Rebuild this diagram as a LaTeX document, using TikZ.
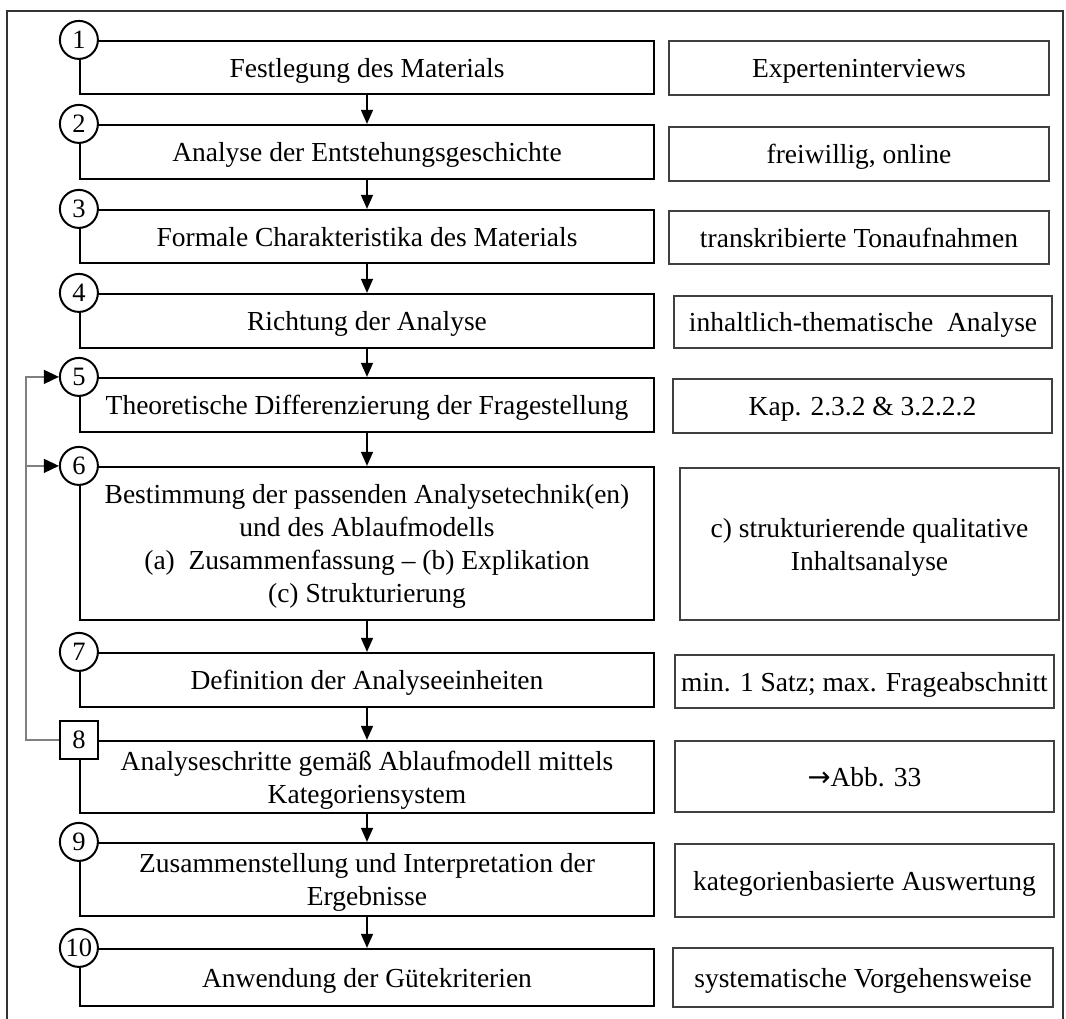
\documentclass[tikz,border=0pt]{standalone}
\usepackage{fontspec}
\setmainfont{Liberation Serif}
\newfontfamily\arrowfont{DejaVu Sans}
\usetikzlibrary{arrows.meta}
\newcommand\boxfont{\fontsize{27.5}{33}\selectfont}
\newcommand\numfont{\fontsize{26.5}{28}\selectfont}
\begin{document}
\begin{tikzpicture}[x=1pt,y=-1pt,
  stepbox/.style={draw=black,line width=2.2pt,minimum width=574pt,inner sep=2pt,
    text depth=0pt,align=center,font=\boxfont},
  notebox/.style={draw=black!75,line width=1.3pt,inner sep=2pt,text depth=0pt,
    align=center,font=\boxfont},
  numcirc/.style={circle,draw=black,line width=2pt,fill=white,minimum size=38pt,
    inner sep=0pt,font=\numfont},
  numsquare/.style={rectangle,draw=black,line width=2pt,fill=white,minimum size=38pt,
    inner sep=0pt,font=\numfont},
  flow/.style={line width=1.5pt,-{Triangle[width=12pt,length=14pt]}},
  loopback/.style={draw=black!50,line width=1.3pt,
    -{Triangle[width=14pt,length=15pt,color=black]}},
  frame/.style={draw=black!80,line width=1.8pt}]

\useasboundingbox (0,0) rectangle (1066,1018);
\clip (0,0) rectangle (1066,1018);

% outer frame
\draw[frame] (7,1040) -- (7,11) -- (1063,11) -- (1063,1040);

% process steps
\node[stepbox,minimum height=53pt] (m1) at (367,67.5) {Festlegung des Materials};
\node[stepbox,minimum height=54pt] (m2) at (367,152) {Analyse der Entstehungsgeschichte};
\node[stepbox,minimum height=53pt] (m3) at (367,236.5) {Formale Charakteristika des Materials};
\node[stepbox,minimum height=54pt] (m4) at (367,321) {Richtung der Analyse};
\node[stepbox,minimum height=54pt] (m5) at (367,405) {Theoretische Differenzierung der Fragestellung};
\node[stepbox,minimum height=153pt] (m6) at (367,543.5) {Bestimmung der passenden Analysetechnik(en)\\und des Ablaufmodells\\(a)\enspace Zusammenfassung – (b) Explikation\\(c) Strukturierung};
\node[stepbox,minimum height=54pt] (m7) at (367,680) {Definition der Analyseeinheiten};
\node[stepbox,minimum height=72pt] (m8) at (367,777) {Analyseschritte gemäß Ablaufmodell mittels\\Kategoriensystem};
\node[stepbox,minimum height=73pt] (m9) at (367,879.5) {Zusammenstellung und Interpretation der\\Ergebnisse};
\node[stepbox,minimum height=57pt] (m10) at (367,977.5) {Anwendung der Gütekriterien};

% notes on the right
\node[notebox,minimum width=380pt,minimum height=54pt] (r1) at (859,68) {Experteninterviews};
\node[notebox,minimum width=380pt,minimum height=54pt] (r2) at (859,154) {freiwillig, online};
\node[notebox,minimum width=380pt,minimum height=53pt] (r3) at (859,237.5) {transkribierte Tonaufnahmen};
\node[notebox,minimum width=378pt,minimum height=52pt] (r4) at (863,322) {inhaltlich-thematische\ \ Analyse};
\node[notebox,minimum width=379pt,minimum height=54pt] (r5) at (862.5,406) {Kap. 2.3.2 \& 3.2.2.2};
\node[notebox,minimum width=379pt,minimum height=152pt] (r6) at (869.5,544) {c) strukturierende qualitative\\Inhaltsanalyse};
\node[notebox,minimum width=379pt,minimum height=53pt] (r7) at (864.5,681.5) {min. 1 Satz; max. Frageabschnitt};
\node[notebox,minimum width=379pt,minimum height=71pt] (r8) at (864.5,776.5) {{\arrowfont →}Abb. 33};
\node[notebox,minimum width=379pt,minimum height=73pt] (r9) at (864.5,880.5) {kategorienbasierte Auswertung};
\node[notebox,minimum width=380pt,minimum height=59pt] (r10) at (863,977.5) {systematische Vorgehensweise};

% step numbers
\node[numcirc] (c1) at (m1.north west) {1};
\node[numcirc] (c2) at (m2.north west) {2};
\node[numcirc] (c3) at (m3.north west) {3};
\node[numcirc] (c4) at (m4.north west) {4};
\node[numcirc] (c5) at (m5.north west) {5};
\node[numcirc] (c6) at (m6.north west) {6};
\node[numcirc] (c7) at (m7.north west) {7};
\node[numsquare] (s8) at (m8.north west) {8};
\node[numcirc] (c9) at (m9.north west) {9};
\node[numcirc] (c10) at (m10.north west) {10};

% main flow
\draw[flow] (m1.south) -- (m2.north);
\draw[flow] (m2.south) -- (m3.north);
\draw[flow] (m3.south) -- (m4.north);
\draw[flow] (m4.south) -- (m5.north);
\draw[flow] (m5.south) -- (m6.north);
\draw[flow] (m6.south) -- (m7.north);
\draw[flow] (m7.south) -- (m8.north);
\draw[flow] (m8.south) -- (m9.north);
\draw[flow] (m9.south) -- (m10.north);

% feedback from step 8 to steps 5 and 6
\coordinate (fbx) at (26,741);
\draw[loopback] (s8.west) -- (s8.west -| fbx) |- (c5.west);
\draw[loopback] (c6.west -| fbx) -- (c6.west);
\end{tikzpicture}
\end{document}
